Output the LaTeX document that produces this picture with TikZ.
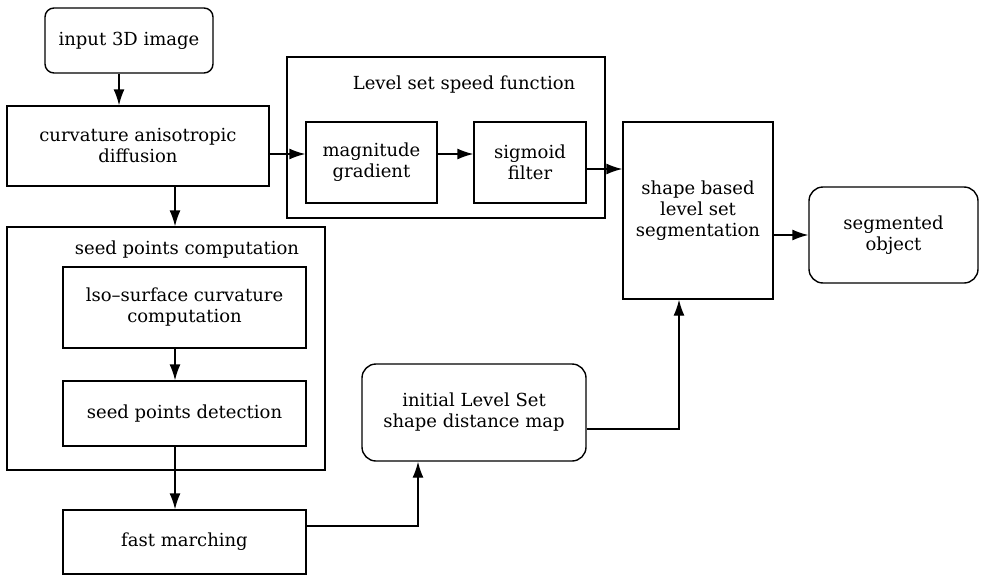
\documentclass[tikz,border=0pt]{standalone}
\usepackage{fontspec}
\setmainfont{DejaVu Serif}
\usetikzlibrary{arrows.meta,calc}
\begin{document}
\begin{tikzpicture}[x=1pt,y=-1pt,
  box/.style={draw,line width=1.4pt,align=center,inner sep=0pt,
    font=\fontsize{18}{21}\selectfont},
  rbox/.style={box,rounded corners=12pt},
  grp/.style={draw,line width=1.4pt,inner sep=0pt},
  ttl/.style={font=\fontsize{18}{21}\selectfont},
  arr/.style={line width=1.4pt,-{Latex[length=16pt,width=11pt]}},
  lin/.style={line width=1.4pt}]
\useasboundingbox (0,0) rectangle (981,578);
\fill[white] (0,0) rectangle (981,578);
% groups
\node[grp,minimum width=318pt,minimum height=161pt] (lsouter) at (446,137.5) {};
\node[ttl] (lstitle) at (464,85) {Level set speed function};
\node[grp,minimum width=318pt,minimum height=243pt] (spouter) at (166,348.5) {};
\node[ttl] (sptitle) at (187,250) {seed points computation};
% nodes
\node[rbox,minimum width=168pt,minimum height=65pt,rounded corners=9pt] (in3d) at (129,40.5) {input 3D image};
\node[box,minimum width=262pt,minimum height=80pt] (cad) at (138,146) {curvature anisotropic\\diffusion};
\node[box,minimum width=131pt,minimum height=81pt] (mag) at (371.5,162.5) {magnitude\\gradient};
\node[box,minimum width=112pt,minimum height=81pt] (sig) at (530,162.5) {sigmoid\\filter};
\node[box,minimum width=150pt,minimum height=177pt] (shape) at (698,210.5) {shape based\\level set\\segmentation};
\node[rbox,minimum width=169pt,minimum height=96pt,rounded corners=14pt] (seg) at (893.5,235) {segmented\\object};
\node[box,minimum width=243pt,minimum height=81pt] (iso) at (184.5,307.5) {lso--surface curvature\\computation};
\node[box,minimum width=243pt,minimum height=65pt] (det) at (184.5,413.5) {seed points detection};
\node[box,minimum width=243pt,minimum height=64pt] (fm) at (184.5,542) {fast marching};
\node[rbox,minimum width=224pt,minimum height=97pt,rounded corners=14pt] (init) at (474,412.5) {initial Level Set\\shape distance map};
% connectors
\draw[arr] (in3d.south -| 119,0) -- (cad.north -| 119,0);
\draw[arr] (cad.east |- 0,154) -- (mag.west |- 0,154);
\draw[arr] (mag.east |- 0,154) -- (sig.west |- 0,154);
\draw[arr] (sig.east |- 0,169) -- (shape.west |- 0,169);
\draw[arr] (shape.east |- 0,235) -- (seg.west |- 0,235);
\draw[arr] (cad.south -| 175,0) -- (spouter.north -| 175,0);
\draw[arr] (iso.south -| 175,0) -- (det.north -| 175,0);
\draw[arr] (det.south -| 175,0) -- (fm.north -| 175,0);
\draw[arr] (fm.east |- 0,526) -| (init.south -| 418,0);
\draw[arr] (init.east |- 0,429) -| (shape.south -| 679,0);
\end{tikzpicture}
\end{document}
